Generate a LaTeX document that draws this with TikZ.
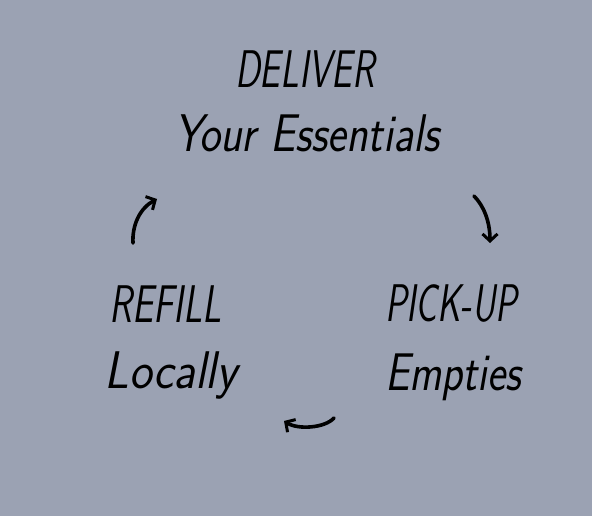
\documentclass[tikz,border=0pt]{standalone}
\usepackage{fontspec}
\usepackage{graphicx}
\usetikzlibrary{arrows.meta}
\definecolor{bgc}{RGB}{155,162,179}
\newcommand{\fitw}[2]{\resizebox{#1}{\height}{\fontsize{53}{53}\selectfont\sffamily\slshape #2}}
\tikzset{
  lbl/.style={inner sep=0pt, anchor=base, text=black},
  cyc/.style={line width=3.6pt, line cap=round, -{Straight Barb[length=7pt,width=15pt,line width=3pt]}}
}
\begin{document}
\begin{tikzpicture}[x=1pt,y=-1pt]
\fill[bgc] (0,0) rectangle (592,516);
\useasboundingbox (0,0) rectangle (592,516);
\node[lbl] (deliver) at (305,88) {\fitw{140pt}{DELIVER}};
\node[lbl] (essentials) at (307,152) {\fitw{265pt}{Your Essentials}};
\node[lbl] (refill) at (166,322) {\fitw{112pt}{REFILL}};
\node[lbl] (locally) at (171,388) {\fitw{133pt}{Locally}};
\node[lbl] (pickup) at (451,321) {\fitw{132pt}{PICK-UP}};
\node[lbl] (empties) at (453,390) {\fitw{136pt}{Empties}};
\coordinate (a1s) at (133,243);
\coordinate (a1e) at (157,199);
\coordinate (a2s) at (474,196);
\coordinate (a2e) at (490,243);
\coordinate (a3s) at (334,418);
\coordinate (a3e) at (284,421);
\draw[cyc] (a1s) .. controls (132,225) and (140,208) .. (a1e);
\draw[cyc] (a2s) .. controls (484,206) and (490,222) .. (a2e);
\draw[cyc] (a3s) .. controls (325,428) and (298,430) .. (a3e);
\end{tikzpicture}
\end{document}
